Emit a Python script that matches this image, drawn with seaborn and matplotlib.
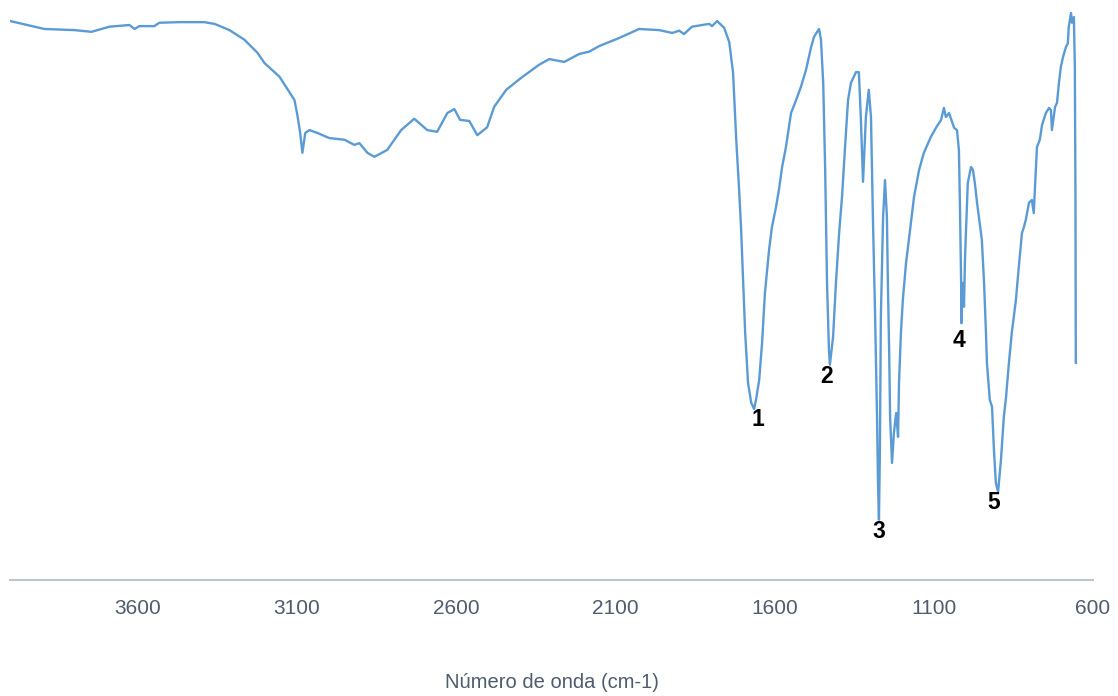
import matplotlib
matplotlib.use("Agg")
import matplotlib.pyplot as plt
import pandas as pd
import seaborn as sns

# wavenumber (cm-1) and transmittance (%)
wavenumber = [
    4000, 3961, 3892, 3798, 3744, 3688, 3625, 3609, 3594, 3547, 3531, 3468,
    3390, 3358, 3311, 3264, 3223, 3201, 3154, 3123, 3107, 3098, 3089, 3082,
    3073, 3060, 3035, 2998, 2950, 2919, 2903, 2878, 2856, 2816, 2772, 2731,
    2690, 2659, 2627, 2605, 2587, 2558, 2533, 2502, 2480, 2442, 2395, 2339,
    2307, 2260, 2213, 2182, 2150, 2088, 2025, 1962, 1921, 1899, 1884, 1859,
    1805, 1796, 1780, 1758, 1742, 1730, 1720, 1711, 1705, 1698, 1692, 1683,
    1673, 1664, 1658, 1648, 1639, 1630, 1617, 1608, 1595, 1586, 1576, 1564,
    1548, 1532, 1517, 1501, 1485, 1476, 1466, 1460, 1454, 1447, 1441, 1435,
    1429, 1426, 1416, 1407, 1397, 1388, 1379, 1369, 1360, 1344, 1335, 1329,
    1322, 1313, 1304, 1297, 1291, 1284, 1278, 1275, 1272, 1269, 1266, 1259,
    1253, 1247, 1244, 1240, 1237, 1231, 1225, 1218, 1212, 1209, 1203, 1197,
    1187, 1178, 1162, 1146, 1131, 1109, 1093, 1077, 1068, 1062, 1052, 1036,
    1027, 1021, 1018, 1014, 1013, 1010, 1008, 1005, 1002, 999, 993, 983,
    977, 971, 964, 952, 949, 942, 936, 933, 924, 917, 911, 905,
    898, 889, 880, 873, 864, 855, 842, 833, 823, 817, 811, 801,
    792, 786, 779, 776, 767, 760, 748, 738, 732, 729, 719, 713,
    707, 701, 694, 685, 679, 676, 669, 666, 660, 657, 655, 654,
    653,
]
transmittance = [
    98.4, 97.9, 97.0, 96.8, 96.5, 97.4, 97.7, 97.0, 97.5, 97.5, 98.1, 98.2,
    98.2, 97.9, 96.8, 95.1, 92.8, 91.0, 88.6, 85.9, 84.5, 81.9, 78.7, 75.2,
    78.7, 79.2, 78.7, 77.8, 77.5, 76.6, 76.9, 75.2, 74.5, 75.7, 79.2, 81.2,
    79.2, 78.9, 82.2, 82.9, 81.0, 80.8, 78.3, 79.7, 83.3, 86.3, 88.4, 90.7,
    91.7, 91.2, 92.6, 93.0, 94.0, 95.4, 97.0, 96.8, 96.3, 96.7, 96.1, 97.4,
    97.9, 97.5, 98.4, 97.2, 94.7, 89.3, 77.5, 68.7, 62.1, 52.3, 43.5, 34.7,
    31.2, 30.1, 31.7, 35.2, 41.7, 50.5, 58.1, 62.1, 65.7, 68.7, 72.7, 76.2,
    82.2, 84.5, 86.8, 89.8, 93.8, 95.6, 96.5, 97.0, 95.1, 87.5, 72.7, 52.3,
    40.5, 37.9, 42.8, 52.3, 61.1, 67.4, 75.7, 84.5, 87.5, 89.4, 89.4, 81.5,
    70.1, 81.5, 86.3, 81.5, 63.9, 46.3, 28.7, 17.1, 10.6, 22.9, 46.3, 63.9,
    70.4, 63.9, 52.3, 40.5, 28.7, 20.6, 25.9, 29.4, 25.2, 34.7, 43.5, 49.3,
    55.8, 59.9, 67.4, 72.2, 75.2, 78.0, 79.6, 81.0, 83.1, 81.5, 82.2, 79.6,
    79.2, 75.7, 66.9, 52.3, 45.2, 52.3, 51.1, 48.1, 56.3, 61.1, 69.9, 72.7,
    72.2, 69.9, 66.4, 61.1, 59.9, 52.3, 43.5, 38.2, 31.7, 30.5, 22.9, 17.1,
    15.5, 21.1, 28.7, 32.2, 38.2, 43.5, 49.3, 55.1, 61.1, 62.1, 63.4, 66.4,
    66.9, 64.6, 72.7, 76.2, 77.5, 80.1, 82.2, 83.1, 82.7, 79.2, 83.3, 84.0,
    87.5, 90.3, 92.1, 93.8, 94.5, 97.4, 99.8, 98.1, 99.1, 90.3, 66.9, 38.2,
    38.2,
]

# band labels
peak_labels = ["1", "2", "3", "4", "5"]
peak_wn = [1652, 1438, 1272, 1021, 911]
peak_t = [28.2, 35.9, 8.5, 42.1, 13.7]

xticks = [3600, 3100, 2600, 2100, 1600, 1100, 600]

spectrum = pd.DataFrame({"wn": wavenumber, "t": transmittance})

sns.set_theme(style="white")
plt.rcParams["font.family"] = ["Liberation Sans", "DejaVu Sans"]

fig = plt.figure(figsize=(11.18, 6.96), dpi=100)
ax = fig.add_axes([10 / 1118, 1 - 580 / 696, 1083 / 1118, 580 / 696])

sns.lineplot(data=spectrum, x="wn", y="t", sort=False, estimator=None,
             color="#5B9BD5", linewidth=1.7, ax=ax)

for lab, w, t in zip(peak_labels, peak_wn, peak_t):
    ax.text(w, t, lab, ha="center", va="center", fontsize=16.5,
            fontweight="bold", color="black")

ax.set_xlim(4000, 600)
ax.set_ylim(0, 102.1)
ax.set_xticks(xticks)
ax.set_xticklabels([str(v) for v in xticks])
ax.set_yticks([])
ax.tick_params(axis="x", length=0, pad=14, labelsize=15, labelcolor="#4F5B6E")
for side in ["top", "left", "right"]:
    ax.spines[side].set_visible(False)
ax.spines["bottom"].set_color("#BCC4D2")
ax.spines["bottom"].set_linewidth(1.5)
ax.set_ylabel("")
ax.set_xlabel("Número de onda (cm-1)", fontsize=14.5, color="#4F5B6E", labelpad=39)
ax.patch.set_alpha(0)

fig.savefig("out.png", dpi=100)
plt.close(fig)
